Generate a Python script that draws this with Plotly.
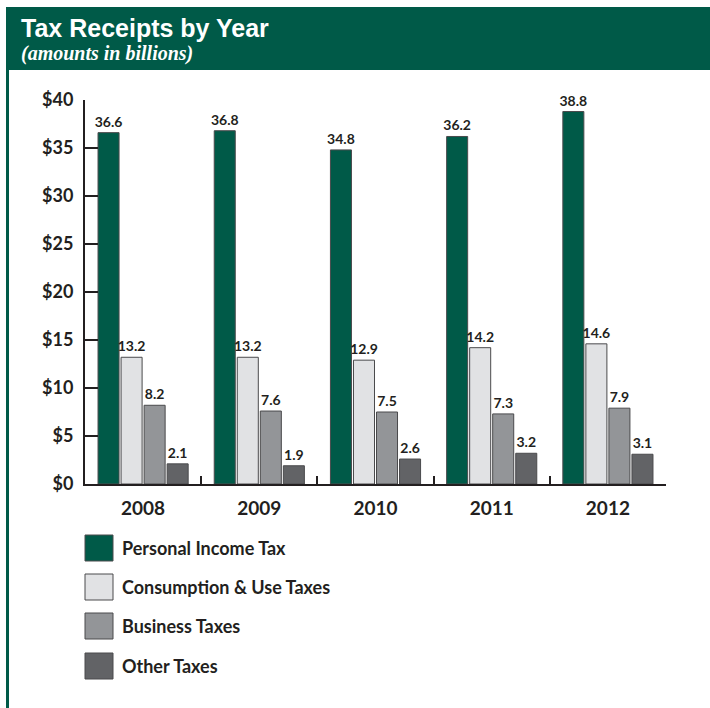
import plotly.graph_objects as go

# ---- data (billions of dollars) ----
years = ["2008", "2009", "2010", "2011", "2012"]
series_names = ["Personal Income Tax", "Consumption & Use Taxes", "Business Taxes", "Other Taxes"]
personal_income = [36.6, 36.8, 34.8, 36.2, 38.8]
consumption_use = [13.2, 13.2, 12.9, 14.2, 14.6]
business = [8.2, 7.6, 7.5, 7.3, 7.9]
other = [2.1, 1.9, 2.6, 3.2, 3.1]
y_ticks = [0, 5, 10, 15, 20, 25, 30, 35, 40]

series_values = [personal_income, consumption_use, business, other]
colors = ["#005a48", "#e1e2e4", "#939598", "#626366"]
outline = "#4a4a4c"
ink = "#231f20"
green = "#005a48"

W, H = 710, 708
L, R, T, B = 85, 44, 100, 224
plot_w = W - L - R
plot_h = H - T - B


def px_x(x):
    return (x - L) / plot_w


def px_y(y):
    return (H - B - y) / plot_h


fig = go.Figure()
for name, vals, col in zip(series_names, series_values, colors):
    fig.add_trace(go.Bar(
        x=years, y=vals, name=name,
        marker=dict(color=col, line=dict(color=outline, width=1)),
        text=[f"{v:.1f}" for v in vals],
        textposition="outside",
        constraintext="none",
        cliponaxis=False,
        textfont=dict(family="Lato", size=14, color=ink, weight="bold"),
        showlegend=False,
    ))

shapes = [
    # header band
    dict(type="rect", xref="paper", yref="paper",
         x0=px_x(6), x1=px_x(712), y0=px_y(70), y1=px_y(7),
         fillcolor=green, line=dict(width=0), layer="below"),
    # left border rule
    dict(type="line", xref="paper", yref="paper",
         x0=px_x(7.5), x1=px_x(7.5), y0=px_y(7), y1=px_y(710),
         line=dict(color=green, width=3)),
]

annotations = [
    dict(text="<b>Tax Receipts by Year</b>", xref="paper", yref="paper",
         x=px_x(19), y=px_y(28), xanchor="left", yanchor="middle", showarrow=False,
         font=dict(family="Liberation Sans", size=25, color="white")),
    dict(text="<b><i>(amounts in billions)</i></b>", xref="paper", yref="paper",
         x=px_x(19), y=px_y(53), xanchor="left", yanchor="middle", showarrow=False,
         font=dict(family="Liberation Serif", size=20, color="white")),
]

# legend drawn as swatches with labels
row_centers = [548, 587, 626, 666]
for name, col, cy in zip(series_names, colors, row_centers):
    shapes.append(dict(type="rect", xref="paper", yref="paper",
                       x0=px_x(85), x1=px_x(113), y0=px_y(cy + 13), y1=px_y(cy - 13),
                       fillcolor=col, line=dict(color=outline, width=1)))
    annotations.append(dict(text=f"<b>{name}</b>", xref="paper", yref="paper",
                            x=px_x(120), y=px_y(cy), xanchor="left", yanchor="middle",
                            showarrow=False,
                            font=dict(family="Lato", size=18, color=ink)))

fig.update_layout(
    width=W, height=H,
    margin=dict(l=L, r=R, t=T, b=B, autoexpand=False),
    paper_bgcolor="white", plot_bgcolor="white",
    barmode="group", bargap=0.207, bargroupgap=0.087,
    shapes=shapes, annotations=annotations,
    showlegend=False,
    xaxis=dict(
        type="category",
        showline=True, linecolor=ink, linewidth=2,
        ticks="inside", tickson="boundaries", ticklen=8, tickwidth=2, tickcolor=ink,
        tickfont=dict(family="Lato", size=19, color=ink, weight="bold"),
        ticklabelstandoff=6,
        showgrid=False, zeroline=False, fixedrange=True,
    ),
    yaxis=dict(
        range=[0, 40],
        tickvals=y_ticks, ticktext=[f"${v}" for v in y_ticks],
        showline=True, linecolor=ink, linewidth=2,
        ticks="inside", ticklen=13, tickwidth=2, tickcolor=ink,
        tickfont=dict(family="Lato", size=18, color=ink, weight="bold"),
        ticklabelstandoff=6,
        showgrid=False, zeroline=False, fixedrange=True,
    ),
)

fig.write_html("out.html")
